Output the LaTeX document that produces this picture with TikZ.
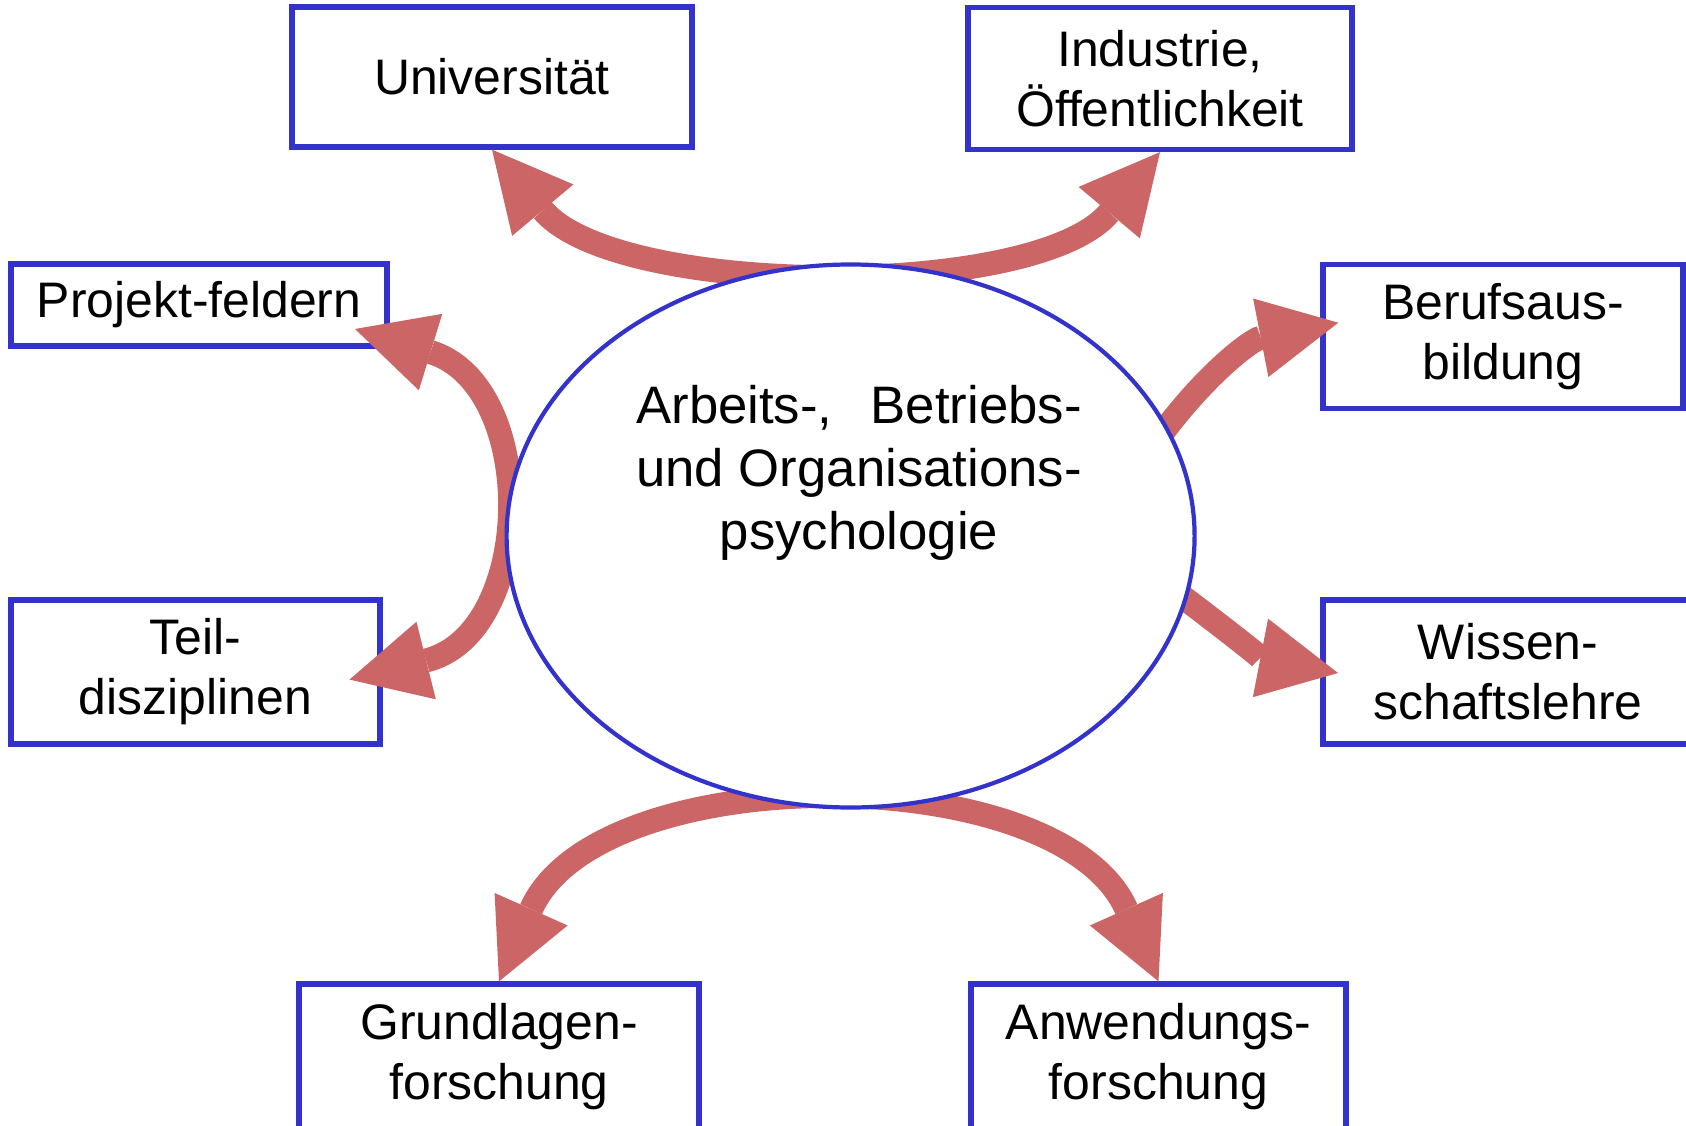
\documentclass[tikz,border=0pt]{standalone}
\usepackage{fontspec}
\setmainfont{Liberation Sans}
\usetikzlibrary{arrows.meta,shapes.geometric}
\definecolor{boxblue}{RGB}{51,51,204}
\definecolor{flowred}{RGB}{204,102,102}
\newlength{\aopwidth}
\tikzset{
    topic/.style={draw=boxblue, line width=1.5pt, fill=white, align=center, inner sep=0pt,
        font=\fontsize{14.2}{17.1}\selectfont},
    flow/.style={draw=flowred, line width=0.24cm,
        >={Triangle[length=0.79cm, width=0.8cm, line width=0pt]}},
    hub/.style={ellipse, draw=boxblue, line width=1.2pt, fill=white,
        minimum width=6.88cm, minimum height=5.43cm, inner sep=0pt}
}

\begin{document}
\begin{tikzpicture}
            \useasboundingbox (0, 0) rectangle (16.86, 11.25);

            \node[topic, minimum width=4cm, minimum height=1.4cm] (uni) at (4.92, 10.48) {Universität};
            \node[topic, minimum width=3.84cm, minimum height=1.42cm] (ind) at (11.6, 10.465) {Industrie,\\Öffentlichkeit};
            \node[topic, minimum width=3.76cm, minimum height=0.82cm] (proj) at (1.99, 8.2) {\raisebox{-0.5mm}{Projekt-feldern}};
            \node[topic, minimum width=3.69cm, minimum height=1.44cm] (teil) at (1.955, 4.53) {Teil-\\disziplinen};
            \node[topic, minimum width=3.6cm, minimum height=1.44cm] (beruf) at (15.03, 7.885) {Berufsaus-\\bildung};
            \node[topic, minimum width=3.7cm, minimum height=1.44cm] (wiss) at (15.08, 4.53) {Wissen-\\schaftslehre};
            \node[topic, minimum width=4cm, minimum height=1.46cm] (grund) at (4.99, 0.68) {Grundlagen-\\forschung};
            \node[topic, minimum width=3.75cm, minimum height=1.46cm] (anw) at (11.585, 0.68) {Anwendungs-\\forschung};

            \coordinate (ptip) at (3.55, 7.96);
            \coordinate (ttip) at (3.495, 4.454);
            \coordinate (bstart) at (11.5, 6.75);
            \coordinate (btip) at (13.383, 8.023);
            \coordinate (wstart) at (11.63, 5.43);
            \coordinate (wtip) at (13.38, 4.52);

            \draw[flow, <->] (uni.south) to[out=-50, in=-130, looseness=0.74] (ind.south);
            \draw[flow, <->] (ptip) to[out=-17, in=14, looseness=1.4] (ttip);
            \draw[flow, ->] (bstart) to[out=55, in=191] (btip);
            \draw[flow, ->] (wstart) to[out=-37, in=169] (wtip);
            \draw[flow, <->] (grund.north) to[out=66, in=114, looseness=0.95] (anw.north);

            \node[hub] (aop) at (8.506, 5.89) {};
            \node[align=center, inner sep=0pt, font=\fontsize{15}{17.9}\selectfont] (aoptext) at (8.59, 6.52)
                {\settowidth{\aopwidth}{und Organisations-}\makebox[\aopwidth][s]{Arbeits-, Betriebs-}\\und Organisations-\\psychologie};
        \end{tikzpicture}
\end{document}
